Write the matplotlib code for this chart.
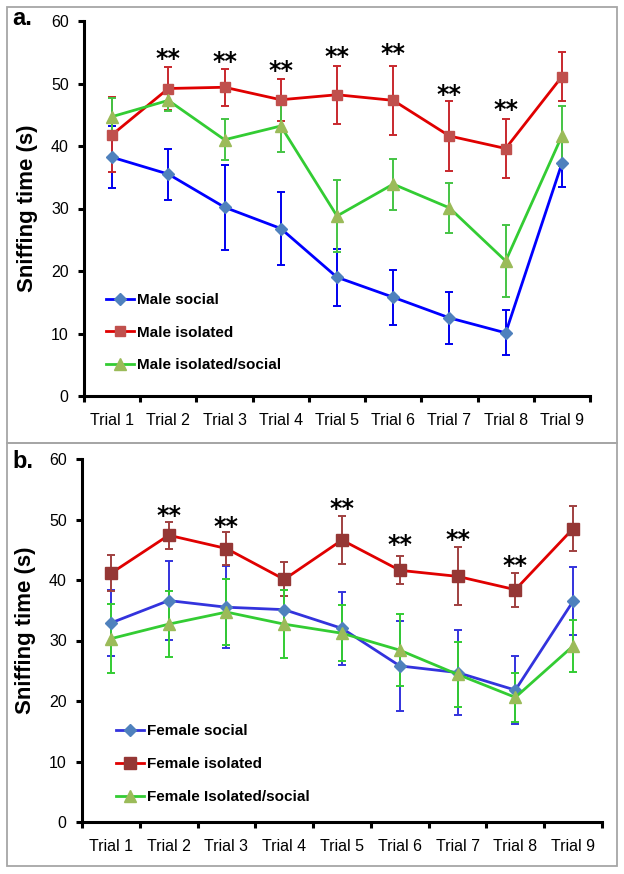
import matplotlib
matplotlib.use("Agg")
import matplotlib.pyplot as plt
from matplotlib.patches import Rectangle
import numpy as np

plt.rcParams['font.family'] = ['Liberation Sans', 'DejaVu Sans']

trials = ["Trial 1", "Trial 2", "Trial 3", "Trial 4", "Trial 5",
          "Trial 6", "Trial 7", "Trial 8", "Trial 9"]

# Panel a (male)
male_social = [38.2, 35.5, 30.2, 26.8, 19.0, 15.8, 12.5, 10.1, 37.2]
male_social_err = [5.0, 4.1, 6.8, 5.8, 4.6, 4.4, 4.1, 3.6, 3.7]
male_isolated = [41.8, 49.2, 49.4, 47.4, 48.2, 47.3, 41.6, 39.6, 51.1]
male_isolated_err = [6.0, 3.5, 3.0, 3.4, 4.6, 5.5, 5.6, 4.8, 3.9]
male_iso_social = [44.7, 47.3, 41.0, 43.2, 28.8, 33.9, 30.1, 21.6, 41.6]
male_iso_social_err = [3.0, 1.7, 3.3, 4.2, 5.7, 4.1, 4.0, 5.8, 4.8]
male_star_trials = [1, 2, 3, 4, 5, 6, 7]
male_star_y = [54.7, 54.2, 52.7, 55.0, 55.5, 49.0, 46.6]

# Panel b (female)
female_social = [32.9, 36.6, 35.5, 35.1, 32.0, 25.8, 24.7, 21.8, 36.5]
female_social_err = [5.4, 6.5, 6.8, 3.2, 6.0, 7.5, 7.0, 5.6, 5.6]
female_isolated = [41.1, 47.4, 45.2, 40.1, 46.6, 41.6, 40.6, 38.4, 48.5]
female_isolated_err = [3.0, 2.2, 2.7, 2.8, 4.0, 2.3, 4.8, 2.8, 3.7]
female_iso_social = [30.3, 32.7, 34.7, 32.7, 31.2, 28.4, 24.4, 20.6, 29.1]
female_iso_social_err = [5.7, 5.4, 5.5, 5.6, 4.6, 5.9, 5.4, 4.0, 4.3]
female_star_trials = [1, 2, 4, 5, 6, 7]
female_star_y = [51.4, 49.6, 52.6, 46.6, 47.4, 43.1]

W, H = 624, 874
fig = plt.figure(figsize=(W / 100, H / 100), dpi=100)

def fx(px):
    return px / W

def fy(py):
    return 1 - py / H

# panel frames
for (x0, y0, x1, y1) in [(7, 7, 617, 443), (7, 443, 617, 866)]:
    fig.patches.append(Rectangle((fx(x0), fy(y1)), fx(x1) - fx(x0), fy(y0) - fy(y1),
                                 transform=fig.transFigure, fill=False,
                                 edgecolor='#A6A6A6', linewidth=1.3))

x = np.arange(len(trials))

def style_axes(ax):
    ax.set_xlim(-0.5, len(trials) - 0.5)
    ax.set_ylim(0, 60)
    ax.set_yticks(np.arange(0, 61, 10))
    for s in ['top', 'right']:
        ax.spines[s].set_visible(False)
    for s in ['left', 'bottom']:
        ax.spines[s].set_linewidth(2.2)
    ax.set_xticks(np.arange(-0.5, len(trials), 1.0))
    ax.set_xticklabels([])
    ax.set_xticks(x, minor=True)
    ax.set_xticklabels(trials, minor=True, fontsize=11.5)
    ax.tick_params(axis='x', which='major', direction='out', length=4, width=2.2)
    ax.tick_params(axis='x', which='minor', length=0, pad=12)
    ax.tick_params(axis='y', direction='out', length=4, width=2.2, labelsize=11.5, pad=7)
    ax.patch.set_alpha(0)

def draw_series(ax, vals, errs, line_c, mk_c, err_c, marker, ms, label):
    ax.errorbar(x, vals, yerr=errs, fmt='none', ecolor=err_c, elinewidth=1.4,
                capsize=3, capthick=1.4, zorder=2)
    ln, = ax.plot(x, vals, color=line_c, lw=2.0, marker=marker, ms=ms,
                  mfc=mk_c, mec=mk_c, label=label, zorder=3)
    return ln

def stars(ax, trial_idx, ys):
    for t, yv in zip(trial_idx, ys):
        ax.annotate('**', xy=(t, yv), xytext=(0, -8.5), textcoords='offset points',
                    ha='center', va='baseline', fontsize=17, fontweight='bold',
                    family='DejaVu Sans')

# ---- Panel a ----
axa = fig.add_axes([fx(84), fy(396), fx(590) - fx(84), fy(21) - fy(396)])
style_axes(axa)
h1 = draw_series(axa, male_social, male_social_err, '#0000FF', '#4F81BD', '#0000EE', 'D', 6.5, 'Male social')
h2 = draw_series(axa, male_isolated, male_isolated_err, '#E00000', '#C0504D', '#C8282D', 's', 7, 'Male isolated')
h3 = draw_series(axa, male_iso_social, male_iso_social_err, '#33CC33', '#9BBB59', '#44C444', '^', 8, 'Male isolated/social')
stars(axa, male_star_trials, male_star_y)
axa.legend(handles=[h1, h2, h3], loc='upper left', frameon=False,
           bbox_to_anchor=(fx(106), fy(293)), bbox_transform=fig.transFigure,
           borderaxespad=0, borderpad=0, handlelength=1.85, handletextpad=0.15,
           labelspacing=1.22, prop={'weight': 'bold', 'size': 11})

# ---- Panel b ----
axb = fig.add_axes([fx(82), fy(822), fx(602) - fx(82), fy(459) - fy(822)])
style_axes(axb)
g1 = draw_series(axb, female_social, female_social_err, '#3333DD', '#4F81BD', '#3333DD', 'D', 6, 'Female social')
g2 = draw_series(axb, female_isolated, female_isolated_err, '#E00000', '#953735', '#A04040', 's', 8.5, 'Female isolated')
g3 = draw_series(axb, female_iso_social, female_iso_social_err, '#33CC33', '#9BBB59', '#33CC33', '^', 8.5, 'Female Isolated/social')
stars(axb, female_star_trials, female_star_y)
axb.legend(handles=[g1, g2, g3], loc='upper left', frameon=False,
           bbox_to_anchor=(fx(116), fy(724)), bbox_transform=fig.transFigure,
           borderaxespad=0, borderpad=0, handlelength=1.85, handletextpad=0.15,
           labelspacing=1.25, prop={'weight': 'bold', 'size': 11})

# y labels and panel letters
fig.text(fx(28), fy(208), 'Sniffing time (s)', rotation=90, ha='center', va='center',
         fontsize=16, fontweight='bold')
fig.text(fx(26), fy(630), 'Sniffing time (s)', rotation=90, ha='center', va='center',
         fontsize=16, fontweight='bold')
fig.text(fx(12), fy(25), 'a.', ha='left', va='baseline', fontsize=17, fontweight='bold')
fig.text(fx(12), fy(468), 'b.', ha='left', va='baseline', fontsize=17, fontweight='bold')

fig.savefig('out.png', dpi=100, facecolor='white')
